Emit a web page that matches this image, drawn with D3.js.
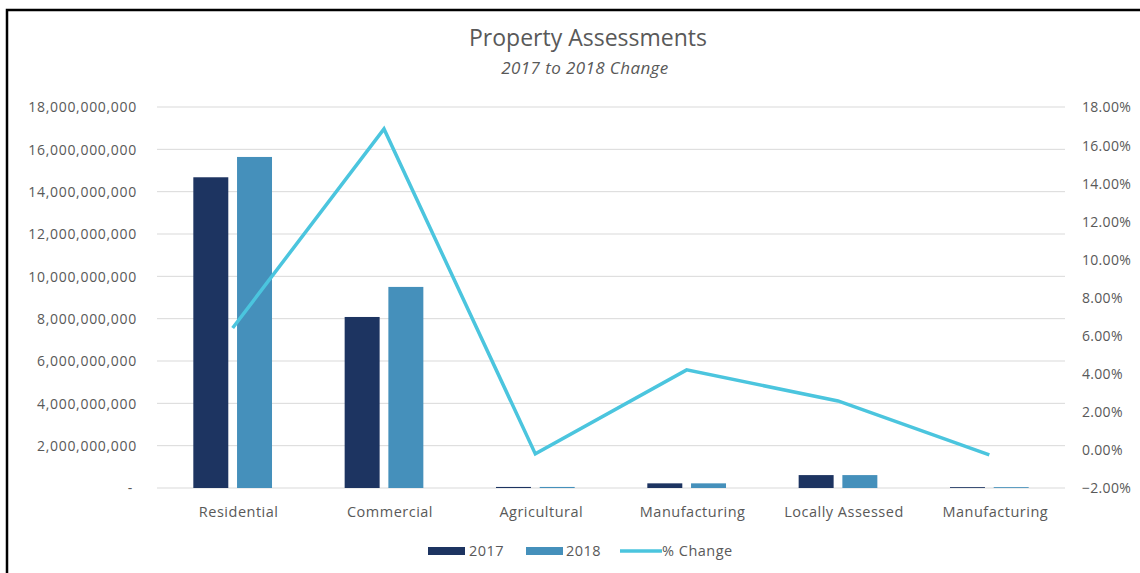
<!DOCTYPE html>
<html>
<head>
<meta charset="utf-8">
<script src="https://cdn.jsdelivr.net/npm/d3@7"></script>
<style>
  html, body { margin: 0; padding: 0; background: #fff; }
  svg { display: block; }
  text { font-family: "Open Sans", "Noto Sans", sans-serif; fill: #595959; }
</style>
</head>
<body>
<svg id="chart" width="1140" height="573"></svg>
<script>
// Assessed values by property class
const categories = ["Residential", "Commercial", "Agricultural", "Manufacturing", "Locally Assessed", "Manufacturing "];
const values2017 = [14680000000, 8080000000, 50000000, 220000000, 610000000, 40000000];
const values2018 = [15640000000, 9500000000, 50000000, 220000000, 610000000, 40000000];
const pctChange = [0.0640, 0.1685, -0.0021, 0.0420, 0.0257, -0.0026];
const leftTicks = [0, 2e9, 4e9, 6e9, 8e9, 10e9, 12e9, 14e9, 16e9, 18e9];
const rightTicks = [-0.02, 0, 0.02, 0.04, 0.06, 0.08, 0.10, 0.12, 0.14, 0.16, 0.18];
const seriesNames = ["2017", "2018"];

const colors = { y2017: "#1d3461", y2018: "#4590bb", line: "#4bc5de", grid: "#d9d9d9" };

const svg = d3.select("#chart");
const margin = { left: 157, right: 1065, top: 107, bottom: 488 };
const labelSpacing = "0.7px";

// frame
svg.append("rect")
  .attr("x", 7).attr("y", 10).attr("width", 1200).attr("height", 700)
  .attr("fill", "none").attr("stroke", "#000").attr("stroke-width", 2.5);

// titles
svg.append("text").attr("x", 588).attr("y", 46).attr("text-anchor", "middle")
  .style("font-size", "23px").style("fill", "#595959").text("Property Assessments");
svg.append("text").attr("x", 585).attr("y", 74).attr("text-anchor", "middle")
  .style("font-size", "17px").style("font-style", "italic").style("letter-spacing", "0.4px")
  .style("fill", "#595959").text("2017 to 2018 Change");

// scales
const x0 = d3.scaleBand().domain(categories).range([margin.left, margin.right])
  .paddingInner(0.48).paddingOuter(0.24);
const x1 = d3.scaleBand().domain(seriesNames).range([0, x0.bandwidth()]).paddingInner(0.2);
const yLeft = d3.scaleLinear().domain([0, 18e9]).range([margin.bottom, margin.top]);
const yRight = d3.scaleLinear().domain([-0.02, 0.18]).range([margin.bottom, margin.top]);

// gridlines
svg.append("g").selectAll("line").data(leftTicks).join("line")
  .attr("x1", margin.left).attr("x2", margin.right)
  .attr("y1", d => yLeft(d)).attr("y2", d => yLeft(d))
  .attr("stroke", colors.grid).attr("stroke-width", 1);

// left axis
const fmtLeft = d => d === 0 ? "-" : d3.format(",")(d);
const leftAxis = svg.append("g").attr("transform", `translate(${margin.left - 20},0)`)
  .call(d3.axisLeft(yLeft).tickValues(leftTicks).tickFormat(fmtLeft).tickSize(0).tickPadding(0));
leftAxis.select(".domain").remove();
leftAxis.selectAll("text").style("font-size", "14px").style("fill", "#595959").attr("dy", "0.35em")
  .style("letter-spacing", labelSpacing).style("font-family", "\"Open Sans\", sans-serif");
leftAxis.selectAll("text").filter(d => d === 0).attr("dx", "-4");

// right axis
const rightAxis = svg.append("g").attr("transform", `translate(${margin.right + 17},0)`)
  .call(d3.axisRight(yRight).tickValues(rightTicks).tickFormat(d3.format(".2%")).tickSize(0).tickPadding(0));
rightAxis.select(".domain").remove();
rightAxis.selectAll("text").style("font-size", "14px").style("fill", "#595959").attr("dy", "0.35em")
  .style("letter-spacing", "0.3px").style("font-family", "\"Open Sans\", sans-serif");

// bars
const rows = categories.map((c, i) => ({ cat: c, vals: [values2017[i], values2018[i]] }));
const groups = svg.append("g").selectAll("g").data(rows).join("g")
  .attr("transform", d => `translate(${x0(d.cat)},0)`);
groups.selectAll("rect").data(d => d.vals.map((v, j) => ({ key: seriesNames[j], v })))
  .join("rect")
  .attr("x", d => x1(d.key)).attr("width", x1.bandwidth())
  .attr("y", d => yLeft(d.v)).attr("height", d => yLeft(0) - yLeft(d.v))
  .attr("fill", d => d.key === "2017" ? colors.y2017 : colors.y2018);

// category labels
svg.append("g").selectAll("text").data(categories).join("text")
  .attr("x", d => x0(d) + x0.bandwidth() / 2 + 6).attr("y", 517)
  .attr("text-anchor", "middle").style("font-size", "14.5px").style("letter-spacing", "0.5px")
  .style("fill", "#595959")
  .text(d => d.trim());

// % change line
const line = d3.line().x((d, i) => x0(categories[i]) + x0.bandwidth() / 2).y(d => yRight(d));
svg.append("path").datum(pctChange).attr("d", line)
  .attr("fill", "none").attr("stroke", colors.line).attr("stroke-width", 3.5)
  .attr("stroke-linejoin", "miter").attr("stroke-linecap", "butt");

// legend
const legend = svg.append("g").style("font-size", "14.5px").style("letter-spacing", "0.5px");
legend.append("rect").attr("x", 428).attr("y", 547).attr("width", 37).attr("height", 8).attr("fill", colors.y2017);
legend.append("text").attr("x", 469).attr("y", 556).text("2017");
legend.append("rect").attr("x", 526).attr("y", 547).attr("width", 37).attr("height", 8).attr("fill", colors.y2018);
legend.append("text").attr("x", 566).attr("y", 556).text("2018");
legend.append("line").attr("x1", 620).attr("x2", 662).attr("y1", 551).attr("y2", 551)
  .attr("stroke", colors.line).attr("stroke-width", 3.5);
legend.append("text").attr("x", 662).attr("y", 556).text("% Change");
</script>
</body>
</html>
